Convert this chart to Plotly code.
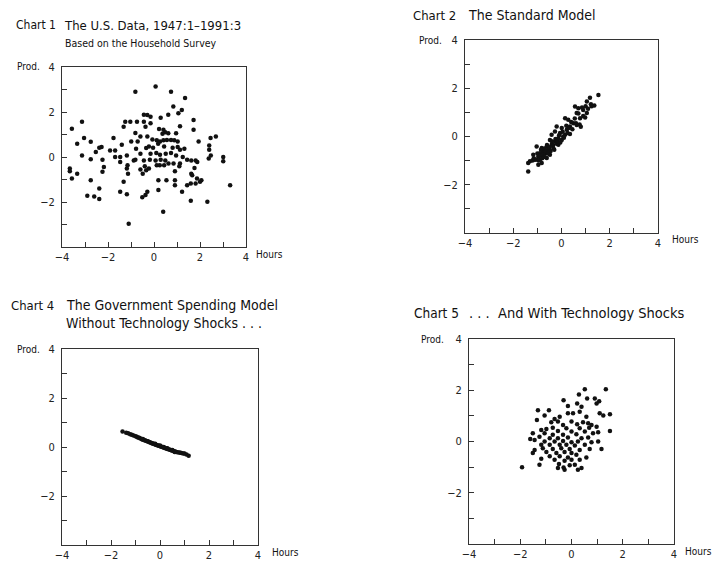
import plotly.graph_objects as go

# ---------------- data ----------------
# Chart 1: U.S. data (hours, productivity)
us_hours = [0.07,-0.81,0.74,1.35,0.84,1.21,1.06,0.62,-0.44,-0.29,-0.15,0.29,1.72,-3.13,-1.25,-1.03,-0.74,-0.44,
            -0.15,-1.32,-0.37,1.13,0.22,0.41,0.49,1.72,-3.57,-0.81,0.62,0.96,0.37,-0.59,-0.29,2.69,2.46,-3.04,-1.76,
            -0.07,0.12,0.26,0.41,0.56,0.74,0.88,1.03,-0.99,-0.71,1.94,-2.75,-3.34,-1.40,-2.28,-2.38,-1.91,-1.69,-0.34,
            -0.22,-0.04,0.18,0.44,0.81,1.03,1.32,1.13,-0.78,2.40,2.40,-2.53,-3.13,-1.47,-1.69,-1.18,-0.59,-0.15,0.10,
            0.26,0.51,0.74,0.96,1.25,2.47,3.01,-2.75,-2.24,-1.47,-0.88,-0.81,-0.44,-0.18,0.07,0.29,0.49,1.44,1.62,
            1.81,1.88,2.38,3.01,-3.66,-3.66,-3.34,-2.18,-2.24,-1.15,-1.18,-0.59,-0.40,-0.34,0.12,0.25,0.44,0.63,0.85,
            1.13,1.10,0.91,1.76,1.62,1.66,-3.57,-2.75,-1.13,-0.49,-0.22,1.87,2.06,0.19,0.54,0.91,0.91,1.44,-1.32,1.81,
            1.60,2.00,3.31,-2.38,0.19,1.22,-1.47,-1.18,-2.90,-2.60,-2.38,-0.29,-0.37,-0.51,1.60,2.32,0.40,-1.10]
us_prod = [3.13,2.90,2.90,2.62,2.24,2.09,1.94,1.88,1.88,1.87,1.79,1.74,1.65,1.57,1.57,1.57,1.57,1.57,
           1.50,1.35,1.35,1.37,1.24,1.21,1.10,1.21,1.26,1.07,1.06,1.06,1.03,0.91,0.91,0.91,0.84,0.84,0.84,
           0.78,0.74,0.69,0.74,0.76,0.76,0.74,0.69,0.69,0.69,0.69,0.68,0.59,0.54,0.44,0.41,0.29,0.29,0.40,
           0.47,0.41,0.59,0.47,0.41,0.44,0.37,0.32,0.37,0.51,0.32,0.22,0.07,0.00,0.00,0.07,0.15,0.15,0.18,
           0.10,0.15,0.18,0.07,0.00,0.07,0.00,-0.10,-0.12,-0.22,-0.15,-0.12,-0.15,-0.12,-0.15,-0.12,-0.15,-0.12,-0.15,
           -0.15,-0.22,-0.07,-0.19,-0.51,-0.63,-0.74,-0.44,-0.66,-0.37,-0.51,-0.56,-0.41,-0.59,-0.37,-0.37,-0.37,-0.29,-0.29,
           -0.29,-0.41,-0.63,-0.49,-0.74,-0.81,-0.96,-1.03,-0.74,-0.74,-0.51,-0.96,-1.03,-1.03,-1.03,-1.03,-1.25,-1.25,-1.10,-1.18,
           -1.18,-1.10,-1.25,-1.40,-1.47,-1.54,-1.54,-1.65,-1.72,-1.76,-1.87,-1.54,-1.69,-1.79,-1.94,-1.99,-2.43,-2.97]

# Chart 2: the standard model
std_hours = [1.53,1.18,1.05,1.22,1.36,0.56,0.70,0.90,1.05,0.63,0.98,0.77,0.15,0.28,0.49,0.63,0.35,-0.20,0.01,
             0.22,-0.27,-0.06,0.15,0.07,-0.41,-0.13,0.01,-0.27,-0.48,-0.13,-0.41,-0.61,-0.34,-0.55,-0.82,-1.03,-0.76,
             -0.61,-0.89,-0.48,-0.76,-0.96,-1.17,-0.61,-0.89,-1.10,-1.31,-0.82,-0.96,-1.38,-1.38,
             -1.20,-1.15,-1.05,-1.00,-0.95,-0.90,-0.85,-0.80,-0.75,-0.70,-0.70,-0.65,-0.60,-0.55,-0.50,-0.45,-0.40,
             -0.35,-0.30,-0.25,-0.20,-0.15,-0.10,-0.05,0.05,0.10,0.20,0.25,0.30,0.40,0.45,0.55,0.60,0.70,0.75,
             0.85,0.90,1.00,1.10,1.25,0.80,0.35]
std_prod = [1.72,1.61,1.45,1.34,1.28,1.24,1.17,1.10,0.97,0.97,0.79,0.76,0.76,0.69,0.55,0.48,0.41,0.41,0.35,
            0.28,0.21,0.14,0.07,0.00,0.07,-0.07,-0.14,-0.21,-0.14,-0.34,-0.34,-0.41,-0.48,-0.55,-0.48,-0.41,-0.62,
            -0.69,-0.69,-0.76,-0.83,-0.83,-0.76,-0.89,-0.96,-0.96,-1.03,-1.10,-1.17,-1.10,-1.45,
            -1.00,-0.90,-0.95,-0.70,-1.00,-0.80,-0.55,-0.90,-0.75,-0.50,-0.85,-0.60,-0.35,-0.70,-0.45,-0.60,-0.20,
            -0.35,-0.55,-0.10,-0.30,-0.20,0.05,-0.25,0.20,-0.05,0.45,0.15,0.35,0.60,0.30,0.75,0.55,0.95,0.50,
            1.20,0.85,1.25,1.15,1.25,0.40,0.10]

# Chart 4: government spending model without technology shocks
gov_hours = [-1.53,-1.38,-1.30,-1.22,-1.15,-1.08,-1.00,-0.95,-0.90,-0.85,-0.80,-0.75,-0.72,-0.68,-0.63,-0.60,
             -0.55,-0.52,-0.48,-0.45,-0.40,-0.37,-0.33,-0.30,-0.26,-0.22,-0.18,-0.15,-0.10,-0.06,-0.02,0.02,0.05,
             0.10,0.14,0.18,0.22,0.27,0.30,0.35,0.40,0.44,0.48,0.53,0.57,0.62,0.66,0.72,0.78,0.83,0.88,0.95,1.00,
             1.08,1.17,-0.70,-0.20,0.30,0.50,0.60,0.00,0.15]
gov_prod = [0.63,0.58,0.56,0.52,0.50,0.47,0.44,0.42,0.39,0.38,0.35,0.33,0.31,0.30,0.28,0.27,
            0.24,0.23,0.22,0.20,0.18,0.17,0.15,0.14,0.13,0.11,0.10,0.08,0.07,0.05,0.04,0.03,0.01,
            0.00,-0.02,-0.03,-0.05,-0.06,-0.08,-0.09,-0.11,-0.12,-0.14,-0.15,-0.17,-0.18,-0.20,-0.21,-0.22,-0.23,-0.25,-0.27,-0.27,
            -0.31,-0.36,0.33,0.13,-0.05,-0.12,-0.20,0.06,0.00]

# Chart 5: ... and with technology shocks
tech_hours = [0.52,1.34,0.29,0.61,0.91,1.08,-0.31,0.98,-0.14,0.22,0.39,-1.31,-0.88,0.32,-0.14,0.06,1.10,1.24,1.50,
              -1.05,-0.46,0.58,-1.35,-0.66,-0.53,-0.79,0.00,0.45,0.65,0.78,0.22,-0.33,-0.73,-0.20,0.32,0.69,0.98,
              -1.18,-0.98,-0.53,0.00,0.52,1.50,-1.51,-1.05,-0.73,-0.33,0.19,0.84,1.04,-1.25,-0.85,-0.53,-0.14,0.39,
              0.65,-1.61,-1.44,-1.05,-0.66,-0.33,0.00,0.25,0.78,1.04,-1.18,-0.85,-0.46,-0.20,0.13,0.52,-1.44,-1.12,
              -0.73,-0.40,-0.07,0.32,0.71,1.17,-1.51,-0.98,-0.59,-0.27,0.00,0.19,-0.85,-0.46,-0.14,-1.18,-0.66,-0.27,
              0.00,0.32,0.58,-1.25,-0.49,-0.07,0.13,-1.93,-0.53,-0.27,0.25,0.39,-0.31]
tech_prod = [2.04,2.04,1.83,1.68,1.68,1.57,1.61,1.48,1.39,1.48,1.36,1.22,1.22,1.16,1.10,1.10,1.10,1.01,1.06,
             1.01,0.97,0.97,0.84,0.88,0.78,0.75,0.78,0.75,0.71,0.64,0.67,0.64,0.54,0.52,0.52,0.54,0.58,
             0.45,0.49,0.41,0.39,0.39,0.41,0.32,0.32,0.26,0.26,0.28,0.32,0.36,0.19,0.13,0.13,0.16,0.13,
             0.16,0.10,0.06,0.00,0.00,0.02,-0.03,0.00,-0.03,0.00,-0.13,-0.13,-0.13,-0.13,-0.16,-0.13,-0.33,-0.26,
             -0.29,-0.26,-0.29,-0.33,-0.29,-0.29,-0.45,-0.41,-0.45,-0.41,-0.45,-0.52,-0.58,-0.58,-0.62,-0.67,-0.71,-0.75,
             -0.71,-0.71,-0.62,-0.91,-0.88,-0.93,-0.91,-1.00,-1.03,-1.10,-1.10,-1.03,-1.01]

tick_vals = [-4, -3, -2, -1, 0, 1, 2, 3, 4]
x_tick_text = ["\u22124", "", "\u22122", "", "0", "", "2", "", "4"]
y_tick_text = ["", "", "\u22122", "", "0", "", "2", "", "4"]

# ---------------- layout helpers ----------------
W, H = 714, 563
FONT = "Liberation Sans Narrow, DejaVu Sans Condensed, Arial Narrow, sans-serif"


def px(x):
    return x / W


def py(y):
    return 1 - y / H


boxes = [(62, 246, 67, 247), (465, 658, 40, 233), (62, 258, 349, 545), (469, 674, 339, 544)]
series = [(us_hours, us_prod), (std_hours, std_prod), (gov_hours, gov_prod), (tech_hours, tech_prod)]

fig = go.Figure()
layout = {}
for i, ((hx, hy), (x0, x1, yt, yb)) in enumerate(zip(series, boxes), start=1):
    sfx = "" if i == 1 else str(i)
    fig.add_trace(go.Scatter(
        x=hx, y=hy, mode="markers",
        marker=dict(color="#111111", size=4.5, line=dict(width=0)),
        xaxis="x" + sfx, yaxis="y" + sfx, showlegend=False, hoverinfo="skip"))
    common = dict(range=[-4, 4], showgrid=False, zeroline=False, showline=True,
                  linecolor="#333333", linewidth=1, mirror=True, ticks="inside",
                  ticklen=5, tickwidth=1, tickcolor="#333333", tickvals=tick_vals,
                  tickfont=dict(family=FONT, size=11, color="#222222"),
                  fixedrange=True, automargin=False)
    layout["xaxis" + sfx] = dict(common, domain=[px(x0), px(x1)], anchor="y" + sfx,
                                 ticktext=x_tick_text)
    layout["yaxis" + sfx] = dict(common, domain=[py(yb), py(yt)], anchor="x" + sfx,
                                 ticktext=y_tick_text, ticklabelstandoff=4)

annotations = []


def text(s, x, y, size, anchor="left"):
    annotations.append(dict(text=s, x=px(x), y=py(y), xref="paper", yref="paper",
                            xanchor=anchor, yanchor="middle", showarrow=False,
                            font=dict(family=FONT, size=size, color="#111111")))


# titles
text("Chart 1", 14, 25, 12)
text("The U.S. Data, 1947:1\u20131991:3", 62, 25, 13)
text("Based on the Household Survey", 63, 43, 10.5)
text("Chart 2", 411, 15, 13)
text("The Standard Model", 466, 15, 14)
text("Chart 4", 9, 305, 13)
text("The Government Spending Model", 64, 305, 14)
text("Without Technology Shocks . . .", 64, 323, 14)
text("Chart 5", 412, 313, 13.5)
text(". . .  And With Technology Shocks", 467, 313, 14.5)

# axis words
hours_pos = [(254, "left"), (670, "left"), (270, "left"), (714, "right")]
for (x0, x1, yt, yb), px_prod, (hx_pos, h_anchor) in zip(boxes, [15, 417, 15, 419], hours_pos):
    text("Prod.", px_prod, yt, 10)
    text("Hours", hx_pos, yb + 7, 10, anchor=h_anchor)

fig.update_layout(**layout, annotations=annotations, width=W, height=H,
                  template="none",
                  margin=dict(l=0, r=0, t=0, b=0, pad=0), paper_bgcolor="white",
                  plot_bgcolor="white", font=dict(family=FONT))

fig.write_html("out.html", config={"displayModeBar": False, "staticPlot": True},
               post_script="document.body.style.margin='0';document.body.style.overflow='hidden';")
